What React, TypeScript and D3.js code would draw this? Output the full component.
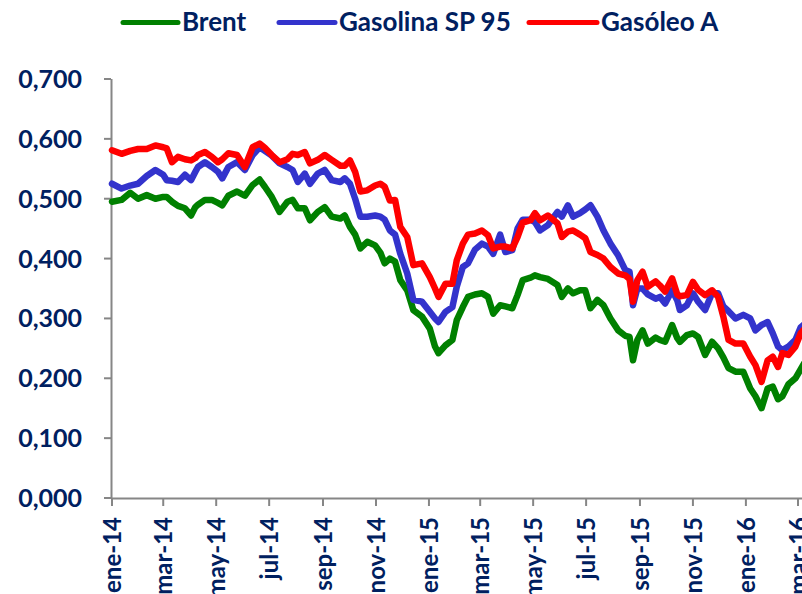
import React, { useEffect, useRef } from 'react';
import * as d3 from 'd3';

// fechas de muestra (lecturas del gráfico)
const dates = [
  "2014-01-01", "2014-01-12", "2014-01-22", "2014-01-31", "2014-02-10", "2014-02-20", "2014-03-01", "2014-03-05",
  "2014-03-11", "2014-03-18", "2014-03-26", "2014-04-02", "2014-04-07", "2014-04-10", "2014-04-18", "2014-04-26",
  "2014-05-03", "2014-05-08", "2014-05-15", "2014-05-25", "2014-06-03", "2014-06-12", "2014-06-20", "2014-06-26",
  "2014-07-04", "2014-07-13", "2014-07-22", "2014-07-28", "2014-08-03", "2014-08-11", "2014-08-17", "2014-08-26",
  "2014-09-03", "2014-09-11", "2014-09-21", "2014-09-26", "2014-10-02", "2014-10-08", "2014-10-14", "2014-10-22",
  "2014-10-31", "2014-11-06", "2014-11-11", "2014-11-17", "2014-11-23", "2014-11-29", "2014-12-07", "2014-12-14",
  "2014-12-24", "2015-01-02", "2015-01-08", "2015-01-12", "2015-01-20", "2015-01-28", "2015-02-02", "2015-02-09",
  "2015-02-15", "2015-02-23", "2015-03-03", "2015-03-10", "2015-03-16", "2015-03-24", "2015-03-30", "2015-04-07",
  "2015-04-13", "2015-04-19", "2015-04-28", "2015-05-03", "2015-05-09", "2015-05-18", "2015-05-29", "2015-06-03",
  "2015-06-10", "2015-06-16", "2015-06-24", "2015-06-30", "2015-07-06", "2015-07-14", "2015-07-21", "2015-07-29",
  "2015-08-07", "2015-08-15", "2015-08-20", "2015-08-24", "2015-08-29", "2015-09-04", "2015-09-10", "2015-09-19",
  "2015-09-24", "2015-09-30", "2015-10-08", "2015-10-14", "2015-10-17", "2015-10-25", "2015-11-01", "2015-11-07",
  "2015-11-15", "2015-11-23", "2015-11-30", "2015-12-06", "2015-12-12", "2015-12-20", "2015-12-29", "2016-01-06",
  "2016-01-12", "2016-01-19", "2016-01-26", "2016-02-01", "2016-02-07", "2016-02-12", "2016-02-19", "2016-02-27",
  "2016-03-04", "2016-03-08",
];

const brent = [
  0.495, 0.498, 0.510, 0.500, 0.506, 0.500, 0.503, 0.503, 0.495, 0.488, 0.484, 0.472, 0.486, 0.490, 0.498, 0.498,
  0.493, 0.489, 0.505, 0.512, 0.505, 0.523, 0.532, 0.520, 0.503, 0.478, 0.495, 0.498, 0.484, 0.484, 0.464, 0.478,
  0.486, 0.470, 0.467, 0.472, 0.453, 0.440, 0.417, 0.428, 0.422, 0.410, 0.392, 0.400, 0.395, 0.364, 0.347, 0.314,
  0.303, 0.283, 0.253, 0.242, 0.255, 0.264, 0.297, 0.319, 0.336, 0.340, 0.342, 0.336, 0.308, 0.322, 0.320, 0.317,
  0.339, 0.364, 0.368, 0.372, 0.369, 0.366, 0.356, 0.336, 0.350, 0.342, 0.347, 0.347, 0.317, 0.331, 0.322, 0.300,
  0.280, 0.271, 0.269, 0.230, 0.264, 0.280, 0.258, 0.268, 0.264, 0.261, 0.289, 0.267, 0.261, 0.272, 0.275, 0.269,
  0.239, 0.261, 0.250, 0.235, 0.217, 0.211, 0.211, 0.183, 0.170, 0.150, 0.183, 0.186, 0.165, 0.170, 0.190, 0.200,
  0.215, 0.225,
];

const gasolina = [
  0.525, 0.517, 0.522, 0.525, 0.538, 0.548, 0.540, 0.531, 0.530, 0.528, 0.540, 0.531, 0.545, 0.553, 0.561, 0.553,
  0.545, 0.534, 0.553, 0.561, 0.548, 0.573, 0.586, 0.580, 0.572, 0.559, 0.553, 0.548, 0.528, 0.542, 0.525, 0.542,
  0.548, 0.531, 0.528, 0.534, 0.525, 0.500, 0.470, 0.470, 0.472, 0.470, 0.465, 0.447, 0.440, 0.408, 0.375, 0.331,
  0.328, 0.311, 0.300, 0.294, 0.311, 0.319, 0.353, 0.386, 0.392, 0.415, 0.425, 0.420, 0.408, 0.440, 0.411, 0.414,
  0.450, 0.465, 0.465, 0.461, 0.447, 0.456, 0.478, 0.470, 0.489, 0.470, 0.476, 0.482, 0.489, 0.470, 0.447, 0.425,
  0.405, 0.381, 0.378, 0.322, 0.350, 0.350, 0.340, 0.333, 0.336, 0.325, 0.347, 0.330, 0.314, 0.322, 0.342, 0.328,
  0.314, 0.342, 0.342, 0.320, 0.312, 0.300, 0.306, 0.300, 0.280, 0.289, 0.294, 0.275, 0.253, 0.247, 0.253, 0.264,
  0.285, 0.290,
];

const gasoleo = [
  0.581, 0.575, 0.580, 0.583, 0.583, 0.589, 0.586, 0.584, 0.561, 0.570, 0.566, 0.564, 0.568, 0.573, 0.578, 0.570,
  0.561, 0.566, 0.576, 0.573, 0.553, 0.586, 0.592, 0.585, 0.573, 0.561, 0.566, 0.575, 0.573, 0.578, 0.559, 0.565,
  0.573, 0.565, 0.555, 0.555, 0.564, 0.545, 0.512, 0.514, 0.522, 0.525, 0.520, 0.497, 0.498, 0.453, 0.436, 0.389,
  0.392, 0.369, 0.350, 0.336, 0.358, 0.358, 0.397, 0.425, 0.440, 0.442, 0.447, 0.439, 0.417, 0.420, 0.420, 0.417,
  0.436, 0.460, 0.464, 0.476, 0.464, 0.472, 0.459, 0.436, 0.445, 0.447, 0.440, 0.434, 0.411, 0.406, 0.400, 0.386,
  0.375, 0.372, 0.366, 0.328, 0.364, 0.378, 0.353, 0.362, 0.355, 0.345, 0.367, 0.340, 0.337, 0.339, 0.361, 0.348,
  0.339, 0.347, 0.336, 0.303, 0.264, 0.258, 0.258, 0.236, 0.222, 0.194, 0.230, 0.236, 0.219, 0.242, 0.239, 0.253,
  0.275, 0.282,
];

const yTicks = [0, 0.1, 0.2, 0.3, 0.4, 0.5, 0.6, 0.7];
const xTicks = [
  "2014-01-01", "2014-03-01", "2014-05-01", "2014-07-01", "2014-09-01", "2014-11-01", "2015-01-01",
  "2015-03-01", "2015-05-01", "2015-07-01", "2015-09-01", "2015-11-01", "2016-01-01", "2016-03-01",
];
const meses = ["ene", "feb", "mar", "abr", "may", "jun", "jul", "ago", "sep", "oct", "nov", "dic"];

const series = [
  { name: "Brent", values: brent, color: "#008000" },
  { name: "Gasolina SP 95", values: gasolina, color: "#3333CC" },
  { name: "Gasóleo A", values: gasoleo, color: "#FF0000" },
];

const W = 802;
const H = 594;
const navy = "#002060";
const axisGrey = "#868686";
const font = "Lato, 'Open Sans', sans-serif";

export default function App() {
  const ref = useRef<SVGSVGElement>(null);

  useEffect(() => {
    const parse = d3.utcParse("%Y-%m-%d");
    const svg = d3.select(ref.current);
    svg.selectAll("*").remove();

    const x = d3.scaleUtc()
      .domain([parse("2014-01-01")!, parse("2016-03-01")!])
      .range([112, 798]);
    const y = d3.scaleLinear().domain([0, 0.7]).range([498, 79]);

    // eje Y
    svg.append("line")
      .attr("x1", 111.5).attr("x2", 111.5)
      .attr("y1", y(0.7)).attr("y2", y(0) + 1)
      .attr("stroke", axisGrey).attr("stroke-width", 2);
    yTicks.forEach((t) => {
      svg.append("line")
        .attr("x1", 104).attr("x2", 111)
        .attr("y1", y(t)).attr("y2", y(t))
        .attr("stroke", axisGrey).attr("stroke-width", 2);
      svg.append("text")
        .attr("x", 82).attr("y", y(t))
        .attr("dy", "0.36em")
        .attr("text-anchor", "end")
        .attr("font-family", font).attr("font-weight", 700).attr("font-size", 25)
        .attr("fill", navy)
        .text(d3.format(".3f")(t).replace(".", ","));
    });

    // eje X
    svg.append("line")
      .attr("x1", 111).attr("x2", W)
      .attr("y1", y(0) + 0.5).attr("y2", y(0) + 0.5)
      .attr("stroke", axisGrey).attr("stroke-width", 2);
    xTicks.forEach((s) => {
      const d = parse(s)!;
      const px = x(d);
      svg.append("line")
        .attr("x1", px).attr("x2", px)
        .attr("y1", y(0)).attr("y2", y(0) + 8)
        .attr("stroke", axisGrey).attr("stroke-width", 2);
      svg.append("text")
        .attr("transform", `translate(${px},517) rotate(-90)`)
        .attr("dy", "0.36em")
        .attr("text-anchor", "end")
        .attr("font-family", font).attr("font-weight", 700).attr("font-size", 24)
        .attr("fill", navy)
        .text(meses[d.getUTCMonth()] + "-" + String(d.getUTCFullYear()).slice(2));
    });

    // líneas
    const parsed = dates.map((s) => parse(s)!);
    series.forEach((sr) => {
      const line = d3.line<number>()
        .x((_, i) => x(parsed[i]))
        .y((v) => y(v))
        .curve(d3.curveLinear);
      svg.append("path")
        .attr("d", line(sr.values))
        .attr("fill", "none")
        .attr("stroke", sr.color)
        .attr("stroke-width", 6.5)
        .attr("stroke-linejoin", "round")
        .attr("stroke-linecap", "round");
    });

    // leyenda
    const legendPos = [[123, 178], [279, 335], [529, 597]];
    series.forEach((sr, i) => {
      const [x1, x2] = legendPos[i];
      svg.append("line")
        .attr("x1", x1).attr("x2", x2)
        .attr("y1", 22.5).attr("y2", 22.5)
        .attr("stroke", sr.color).attr("stroke-width", 5)
        .attr("stroke-linecap", "round");
      svg.append("text")
        .attr("x", x2 + 4).attr("y", 30.5)
        .attr("font-family", font).attr("font-weight", 700).attr("font-size", 26)
        .attr("fill", navy)
        .text(sr.name);
    });
  }, []);

  return (
    <div style={{ position: "absolute", left: 0, top: 0, width: W, height: H, overflow: "hidden", background: "#fff" }}>
      <svg ref={ref} width={W} height={H} style={{ display: "block" }}></svg>
    </div>
  );
}
